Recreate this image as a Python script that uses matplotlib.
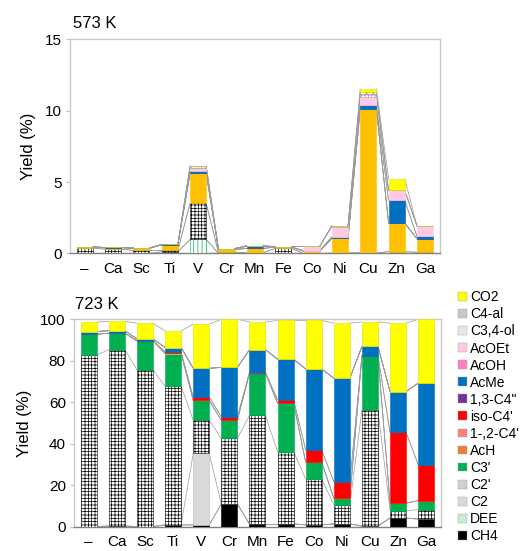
import numpy as np
import matplotlib
matplotlib.use('Agg')
import matplotlib.pyplot as plt
from matplotlib.patches import Patch

plt.rcParams['font.family'] = ['Liberation Sans', 'DejaVu Sans']
plt.rcParams['hatch.linewidth'] = 0.5

metals = ['–', 'Ca', 'Sc', 'Ti', 'V', 'Cr', 'Mn', 'Fe', 'Co', 'Ni', 'Cu', 'Zn', 'Ga']

# stacking order, bottom to top
series = ['CH4', 'DEE', 'C2', "C2'", "C3'", 'AcH', "1-,2-C4'", "iso-C4'",
          '1,3-C4"', 'AcMe', 'AcOH', 'AcOEt', 'C3,4-ol', 'C4-al', 'CO2']

# 573 K yields (%)
y573 = {
    'CH4':      [0, 0, 0, 0, 0, 0.02, 0, 0, 0, 0.02, 0.03, 0.03, 0.03],
    'DEE':      [0, 0, 0, 0.12, 0.98, 0, 0, 0, 0, 0, 0, 0, 0],
    'C2':       [0] * 13,
    "C2'":      [0.38, 0.30, 0.22, 0.10, 2.52, 0.05, 0.05, 0.35, 0, 0, 0, 0.10, 0.05],
    "C3'":      [0] * 13,
    'AcH':      [0.05, 0.10, 0.14, 0.38, 2.10, 0.22, 0.30, 0.10, 0.15, 1.03, 10.07, 2.00, 0.95],
    "1-,2-C4'": [0] * 13,
    "iso-C4'":  [0] * 13,
    '1,3-C4"':  [0] * 13,
    'AcMe':     [0.03, 0.02, 0.03, 0.03, 0.16, 0.05, 0.15, 0.02, 0.05, 0.12, 0.26, 1.59, 0.17],
    'AcOH':     [0] * 13,
    'AcOEt':    [0, 0, 0, 0, 0.24, 0, 0, 0, 0.30, 0.70, 0.60, 0.70, 0.73],
    'C3,4-ol':  [0, 0, 0, 0, 0.10, 0, 0.05, 0, 0, 0.07, 0.20, 0, 0],
    'C4-al':    [0, 0, 0, 0, 0, 0, 0, 0, 0, 0, 0.14, 0, 0],
    'CO2':      [0, 0, 0, 0, 0.03, 0, 0, 0, 0, 0, 0.22, 0.81, 0],
}

# 723 K yields (%)
y723 = {
    'CH4':      [0.2, 0.5, 0.2, 0.8, 1.0, 11.1, 1.5, 1.5, 1.0, 1.5, 0.3, 4.3, 3.8],
    'DEE':      [0, 0, 0, 0.3, 0, 0, 0, 0, 0, 0, 0.3, 0, 0],
    'C2':       [0, 0, 0, 0, 34.4, 0, 0, 0, 0, 0, 0, 0, 0],
    "C2'":      [82.5, 84.9, 75.4, 66.7, 16.0, 31.5, 52.2, 34.7, 22.1, 9.2, 55.7, 3.6, 4.5],
    "C3'":      [10.1, 7.9, 14.0, 15.5, 9.5, 8.7, 20.3, 23.4, 8.0, 3.2, 26.1, 3.6, 4.4],
    'AcH':      [0, 0, 0, 0.4, 0, 0, 0, 0, 0, 0, 0, 0, 0],
    "1-,2-C4'": [0] * 13,
    "iso-C4'":  [0, 0, 0, 0.6, 1.6, 1.7, 0, 1.6, 5.9, 7.9, 0, 34.0, 17.3],
    '1,3-C4"':  [0, 0, 0, 0, 0, 0, 0.7, 0, 0, 0, 0, 0, 0],
    'AcMe':     [1.3, 1.2, 0.9, 2.1, 13.9, 23.8, 10.6, 19.6, 39.0, 49.8, 4.5, 19.7, 39.2],
    'AcOH':     [0] * 13,
    'AcOEt':    [0] * 13,
    'C3,4-ol':  [0] * 13,
    'C4-al':    [0] * 13,
    'CO2':      [4.5, 4.5, 7.6, 8.0, 21.2, 23.2, 13.4, 18.6, 23.4, 26.5, 11.8, 32.9, 30.8],
}

# face, edge/hatch colour, hatch
style = {
    'CH4':      ('#000000', '#000000', None),
    'DEE':      ('#FFFFFF', '#00B050', '||||'),
    'C2':       ('#D9D9D9', '#BFBFBF', None),
    "C2'":      ('#FFFFFF', '#000000', '+++++'),
    "C3'":      ('#00B050', '#00B050', None),
    'AcH':      ('#FFC000', '#FFC000', None),
    "1-,2-C4'": ('#FF8080', '#FF8080', None),
    "iso-C4'":  ('#FF0000', '#FF0000', None),
    '1,3-C4"':  ('#7030A0', '#7030A0', None),
    'AcMe':     ('#0070C0', '#0070C0', None),
    'AcOH':     ('#FF80C0', '#FF80C0', None),
    'AcOEt':    ('#FFC8E4', '#FFC8E4', None),
    'C3,4-ol':  ('#FFFFFF', '#A0A0A0', '+++++'),
    'C4-al':    ('#FFFFFF', '#909090', 'xxxxx'),
    'CO2':      ('#FFFF00', '#E0E000', None),
}
legend_face = dict((k, v[0]) for k, v in style.items())
legend_face['AcH'] = '#ED7D31'
legend_face["C2'"] = '#D0D0D0'
legend_face['C3,4-ol'] = '#E8E8E8'
legend_face['C4-al'] = '#C8C8C8'
legend_face['DEE'] = '#C8ECD4'

x = np.arange(len(metals))
w = 0.57


def draw(ax, data, ymax, yticks):
    bottom = np.zeros(len(metals))
    cums = []
    for s in series:
        vals = np.array(data[s], dtype=float)
        fc, ec, h = style[s]
        ax.bar(x, vals, w, bottom=bottom, color=fc, edgecolor=ec,
               hatch=h, linewidth=0.4, zorder=3)
        bottom = bottom + vals
        cums.append(bottom.copy())
    # series lines between neighbouring bars
    for c in cums:
        for i in range(len(metals) - 1):
            ax.plot([x[i] + w / 2, x[i + 1] - w / 2], [c[i], c[i + 1]],
                    color='#9A9A9A', lw=0.5, zorder=2)
    ax.set_xlim(-0.52, len(metals) - 0.47)
    ax.set_ylim(0, ymax)
    ax.set_yticks(yticks)
    ax.set_xticks(x)
    ax.set_xticklabels(metals, fontsize=11)
    ax.tick_params(axis='x', length=0, pad=6)
    ax.tick_params(axis='y', length=3, color='#BFBFBF', labelsize=11, pad=3)
    for sp in ['top', 'right', 'left']:
        ax.spines[sp].set_color('#C8C8C8')
        ax.spines[sp].set_linewidth(1.0)
    ax.spines['bottom'].set_color('#808080')
    ax.spines['bottom'].set_linewidth(1.0)
    ax.set_ylabel('Yield (%)', fontsize=12, labelpad=6)


fig = plt.figure(figsize=(5.22, 5.51), dpi=100)
ax1 = fig.add_axes([0.134, 0.540, 0.709, 0.389])
ax2 = fig.add_axes([0.142, 0.0436, 0.703, 0.377])

draw(ax1, y573, 15, [0, 5, 10, 15])
draw(ax2, y723, 100, [0, 20, 40, 60, 80, 100])

fig.text(0.14, 0.958, '573 K', fontsize=12, va='center', ha='left')
fig.text(0.144, 0.447, '723 K', fontsize=12, va='center', ha='left')

handles = []
for s in series[::-1]:
    handles.append(Patch(facecolor=legend_face[s], edgecolor='#A0A0A0', linewidth=0.3, label=s))
fig.legend(handles=handles, loc='upper left', bbox_to_anchor=(0.878, 0.473),
           frameon=False, fontsize=10, handlelength=0.6, handleheight=0.6,
           handletextpad=0.25, labelspacing=0.22, borderaxespad=0, borderpad=0)

fig.savefig('out.png', dpi=100)
